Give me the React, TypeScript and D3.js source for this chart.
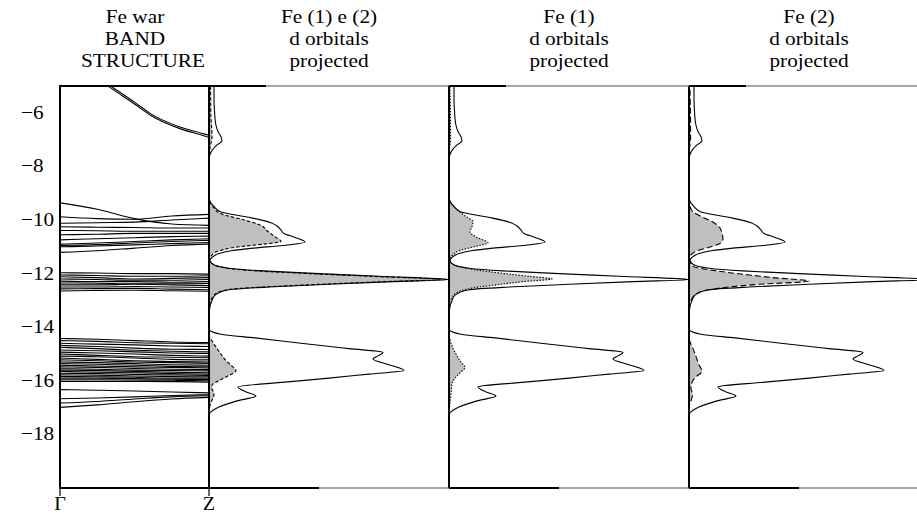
import React from "react";
import * as d3 from "d3";

// ---- data ----
const yTicks = [-6, -8, -10, -12, -14, -16, -18];
const kLabels = ["Γ", "Z"];
const kPoints = [0, 0.25, 0.5, 0.75, 1];

// upper s-like pair, crosses the top of the window
const topBandK = [0, 0.2, 0.34, 0.5, 0.61, 0.81, 0.95, 1];
const topBands = [
  [-3.2, -4.45, -5.0, -5.6, -6.04, -6.54, -6.76, -6.84],
  [-3.3, -4.52, -5.07, -5.67, -6.1, -6.6, -6.83, -6.92],
];

// d bands around -10 / -11
const dBandsUpper = [
  [-9.36, -9.6, -9.95, -10.15, -10.2],
  [-9.88, -9.95, -9.97, -9.85, -9.79],
  [-10.12, -10.1, -10.08, -10.0, -9.93],
  [-10.25, -10.27, -10.28, -10.3, -10.3],
  [-10.39, -10.4, -10.42, -10.42, -10.42],
  [-10.55, -10.53, -10.5, -10.5, -10.5],
  [-10.74, -10.7, -10.66, -10.62, -10.6],
  [-10.9, -10.86, -10.8, -10.74, -10.7],
  [-10.95, -10.92, -10.86, -10.8, -10.76],
  [-11.0, -10.97, -10.93, -10.88, -10.84],
  [-11.21, -11.15, -11.05, -10.95, -10.9],
];

// flat d bands around -12.3
const dBandsMiddle = [
  [-11.97, -11.98, -12.0, -12.0, -12.02],
  [-12.05, -12.07, -12.1, -12.1, -12.08],
  [-12.12, -12.15, -12.2, -12.18, -12.15],
  [-12.2, -12.22, -12.25, -12.25, -12.22],
  [-12.28, -12.3, -12.3, -12.32, -12.3],
  [-12.35, -12.36, -12.38, -12.38, -12.37],
  [-12.42, -12.42, -12.4, -12.42, -12.45],
  [-12.5, -12.5, -12.48, -12.5, -12.52],
  [-12.57, -12.56, -12.55, -12.58, -12.6],
  [-12.65, -12.63, -12.62, -12.64, -12.66],
];

// dense group -14.4 .. -16
const lowBands = [
  [-14.42, -14.45, -14.5, -14.55, -14.57],
  [-14.5, -14.53, -14.58, -14.6, -14.62],
  [-14.6, -14.63, -14.66, -14.7, -14.72],
  [-14.68, -14.72, -14.78, -14.82, -14.83],
  [-14.75, -14.8, -14.86, -14.9, -14.92],
  [-14.85, -14.88, -14.92, -14.96, -14.98],
  [-14.93, -14.96, -15.0, -15.05, -15.08],
  [-15.0, -15.05, -15.1, -15.12, -15.14],
  [-15.08, -15.1, -15.15, -15.2, -15.22],
  [-15.15, -15.2, -15.25, -15.28, -15.3],
  [-15.22, -15.25, -15.3, -15.32, -15.35],
  [-15.3, -15.32, -15.36, -15.4, -15.42],
  [-15.36, -15.38, -15.42, -15.46, -15.48],
  [-15.42, -15.45, -15.48, -15.5, -15.52],
  [-15.48, -15.5, -15.54, -15.57, -15.58],
  [-15.55, -15.57, -15.6, -15.62, -15.63],
  [-15.6, -15.62, -15.65, -15.68, -15.7],
  [-15.65, -15.68, -15.7, -15.73, -15.75],
  [-15.72, -15.73, -15.76, -15.78, -15.8],
  [-15.78, -15.79, -15.82, -15.84, -15.85],
  [-15.84, -15.85, -15.87, -15.9, -15.9],
  [-15.9, -15.9, -15.92, -15.94, -15.95],
  [-15.96, -15.96, -15.97, -15.98, -16.0],
  [-16.02, -16.02, -16.02, -16.03, -16.05],
];

const bottomBands = [
  [-16.33, -16.35, -16.38, -16.42, -16.45],
  [-16.67, -16.64, -16.6, -16.55, -16.52],
  [-16.83, -16.77, -16.68, -16.6, -16.56],
  [-16.99, -16.9, -16.78, -16.68, -16.62],
];

// DOS: [energy, states]
const dosTotal = [
  [-4.8, 2.5], [-5.5, 2.5], [-6.0, 2.8], [-6.4, 3.3], [-6.7, 4.5], [-6.9, 6], [-7.05, 6.5],
  [-7.2, 4], [-7.4, 1.5], [-7.6, 0.3], [-7.8, 0], [-9.0, 0], [-9.26, 0.3], [-9.5, 2.5],
  [-9.7, 6], [-9.9, 20], [-10.1, 31], [-10.25, 34.5], [-10.38, 36], [-10.5, 37.5],
  [-10.65, 43], [-10.82, 48], [-10.95, 37], [-11.05, 22], [-11.15, 11], [-11.25, 5],
  [-11.4, 1.5], [-11.5, 0.5], [-11.65, 2], [-11.8, 10], [-11.9, 27], [-12.0, 55],
  [-12.1, 85], [-12.22, 120], [-12.3, 92], [-12.4, 60], [-12.5, 30], [-12.6, 10],
  [-12.8, 3], [-13.0, 1.5], [-13.3, 0.3], [-13.8, 0], [-14.1, 0.3], [-14.26, 6],
  [-14.4, 23], [-14.6, 46], [-14.8, 70], [-14.94, 87], [-15.05, 85], [-15.19, 82],
  [-15.4, 90], [-15.62, 97.5], [-15.75, 80], [-15.9, 60], [-16.05, 38], [-16.23, 14.5],
  [-16.4, 18], [-16.57, 23.5], [-16.75, 14], [-16.98, 5], [-17.1, 2], [-17.22, 0.3],
  [-17.5, 0], [-20, 0],
];

const dosFe12 = [
  [-4.8, 0.8], [-6.0, 0.9], [-6.9, 1.5], [-7.2, 0.8], [-7.6, 0], [-9.1, 0], [-9.3, 0.3],
  [-9.5, 2], [-9.75, 5.5], [-10.0, 17.5], [-10.2, 26], [-10.4, 29], [-10.6, 32.5],
  [-10.8, 36], [-10.9, 27.5], [-11.0, 15], [-11.15, 5], [-11.3, 1.5], [-11.5, 0.3],
  [-11.6, 1], [-11.8, 9], [-11.9, 24], [-12.0, 50], [-12.1, 80], [-12.22, 116],
  [-12.3, 88], [-12.4, 55], [-12.5, 27], [-12.6, 9], [-12.8, 2.5], [-13.0, 1],
  [-13.3, 0], [-14.3, 0], [-14.45, 1], [-14.63, 2.5], [-14.85, 4.5], [-15.06, 6.5],
  [-15.25, 8.5], [-15.45, 11.5], [-15.62, 13.5], [-15.8, 10], [-15.99, 5], [-16.17, 1.5],
  [-16.3, 1.5], [-16.48, 2.5], [-16.65, 2], [-16.79, 1], [-17.0, 0.3], [-17.3, 0], [-20, 0],
];

const dosFe1 = [
  [-4.8, 0.4], [-6.9, 0.8], [-7.6, 0], [-9.1, 0], [-9.3, 0.5], [-9.6, 4], [-9.9, 9],
  [-10.05, 12], [-10.25, 11.5], [-10.45, 10.5], [-10.65, 14], [-10.85, 19.5], [-11.0, 12.5],
  [-11.15, 5], [-11.3, 2], [-11.45, 0.5], [-11.6, 1], [-11.85, 12.5], [-12.0, 28],
  [-12.1, 40], [-12.2, 51.5], [-12.3, 37], [-12.4, 26], [-12.53, 12.5], [-12.7, 4],
  [-12.9, 1.5], [-13.2, 0], [-14.3, 0], [-14.4, 0.3], [-14.7, 1.5], [-15.0, 3.5],
  [-15.3, 6], [-15.5, 8], [-15.7, 5.5], [-15.9, 3], [-16.1, 1.5], [-16.5, 1], [-16.8, 0.5],
  [-17.1, 0.2], [-17.3, 0], [-20, 0],
];

const dosFe2 = [
  [-4.8, 0.4], [-6.9, 0.8], [-7.6, 0], [-9.3, 0], [-9.5, 0.5], [-9.7, 2], [-9.9, 7],
  [-10.1, 12.5], [-10.3, 15.5], [-10.5, 16.5], [-10.7, 17], [-10.85, 16], [-11.0, 11],
  [-11.15, 4], [-11.3, 1], [-11.5, 0.3], [-11.73, 2], [-11.9, 14], [-12.05, 30],
  [-12.15, 42], [-12.28, 60], [-12.4, 35], [-12.5, 20], [-12.65, 7], [-12.8, 3],
  [-13.0, 1], [-13.2, 0], [-14.3, 0], [-14.5, 0.3], [-14.8, 2], [-15.1, 3.5], [-15.4, 5],
  [-15.65, 6.5], [-15.85, 3.5], [-16.05, 1.5], [-16.3, 1], [-16.5, 1.8], [-16.7, 1.2],
  [-16.9, 0.3], [-17.1, 0], [-20, 0],
];

const bandTitle = ["Fe war", "BAND", "STRUCTURE"];
const panelTitles = [
  ["Fe (1) e (2)", "d orbitals", "projected"],
  ["Fe (1)", "d orbitals", "projected"],
  ["Fe (2)", "d orbitals", "projected"],
];
const panelDos = [dosFe12, dosFe1, dosFe2];
const panelDash = ["3.5,2", "1.5,1.5", "6,3"];

// ---- layout ----
const W = 917, H = 516;
const top = 86, bottom = 488;
const bandLeft = 60, bandRight = 209;
const panelW = 240;
const panelLefts = [209, 449, 689];
const font = "'Liberation Serif', 'Times New Roman', serif";

const Txt = ({ x, y, anchor = "middle", size = 19, children }: any) => (
  <text
    transform={`translate(${x},${y}) scale(1.12,1)`}
    textAnchor={anchor}
    fontFamily={font}
    fontSize={size}
    fill="#000"
  >
    {children}
  </text>
);

export default function App() {
  const y = d3.scaleLinear().domain([-20, -5]).range([bottom, top]);
  const xk = d3.scaleLinear().domain([0, 1]).range([bandLeft, bandRight]);

  const bandLine = (ks: number[]) =>
    d3
      .line<number>()
      .x((_, i) => xk(ks[i]))
      .y((d) => y(d))
      .curve(d3.curveMonotoneX);

  const bands = [...dBandsUpper, ...dBandsMiddle, ...lowBands, ...bottomBands];

  return (
    <svg width={W} height={H} style={{ position: "absolute", left: 0, top: 0, background: "#fff" }}>
      <defs>
        <clipPath id="clip-band">
          <rect x={bandLeft} y={top} width={bandRight - bandLeft} height={bottom - top} />
        </clipPath>
        {panelLefts.map((px, i) => (
          <clipPath id={`clip-dos-${i}`} key={i}>
            <rect x={px} y={top} width={panelW} height={bottom - top} />
          </clipPath>
        ))}
      </defs>

      {/* band structure */}
      <g clipPath="url(#clip-band)" fill="none" stroke="#000" strokeWidth={1.1}>
        {topBands.map((b, i) => (
          <path key={"t" + i} d={bandLine(topBandK)(b) || ""} />
        ))}
        {bands.map((b, i) => (
          <path key={i} d={bandLine(kPoints)(b) || ""} />
        ))}
      </g>

      {/* DOS panels */}
      {panelLefts.map((px, i) => {
        const xs = d3.scaleLinear().domain([0, 120]).range([px, px + panelW]);
        const area = d3
          .area<number[]>()
          .y((d) => y(d[0]))
          .x0(xs(0))
          .x1((d) => xs(d[1]))
          .curve(d3.curveMonotoneY);
        const line = d3
          .line<number[]>()
          .x((d) => xs(d[1]))
          .y((d) => y(d[0]))
          .curve(d3.curveMonotoneY);
        return (
          <g key={i} clipPath={`url(#clip-dos-${i})`}>
            <path d={area(panelDos[i]) || ""} fill="#bfbfbf" stroke="none" />
            <path d={line(panelDos[i]) || ""} fill="none" stroke="#000" strokeWidth={1.1} strokeDasharray={panelDash[i]} />
            <path d={line(dosTotal) || ""} fill="none" stroke="#000" strokeWidth={1.1} />
          </g>
        );
      })}

      {/* frames */}
      <g stroke="#000" strokeWidth={2}>
        <line x1={bandLeft} x2={bandLeft} y1={top} y2={bottom} />
        <line x1={bandLeft - 1} x2={bandRight} y1={top} y2={top} />
        <line x1={bandLeft - 1} x2={bandRight} y1={bottom} y2={bottom} />
        {xk.domain().map((k, i) => (
          <line key={i} x1={xk(k)} x2={xk(k)} y1={bottom} y2={bottom + 8} strokeWidth={1.2} />
        ))}
      </g>
      {panelLefts.map((px, i) => (
        <g key={i}>
          <line x1={px + 57} x2={px + panelW} y1={top} y2={top} stroke="#8a8a8a" strokeWidth={1.4} />
          <line x1={px + 110} x2={px + panelW} y1={bottom} y2={bottom} stroke="#8a8a8a" strokeWidth={1.4} />
          <line x1={px} x2={px + 57} y1={top} y2={top} stroke="#000" strokeWidth={2} />
          <line x1={px} x2={px + 110} y1={bottom} y2={bottom} stroke="#000" strokeWidth={2} />
          <line x1={px} x2={px} y1={top} y2={bottom} stroke="#000" strokeWidth={2} />
        </g>
      ))}

      {/* y tick labels */}
      {yTicks.map((t) => (
        <Txt key={t} x={21} y={y(t) + 6} anchor="start">
          {"\u2212" + Math.abs(t)}
        </Txt>
      ))}

      {/* k labels */}
      {xk.domain().map((k, i) => (
        <Txt key={i} x={xk(k)} y={510} size={18}>
          {kLabels[i]}
        </Txt>
      ))}

      {/* titles */}
      {bandTitle.map((s, j) => (
        <Txt key={j} x={j === 2 ? 143 : 135} y={23 + j * 22}>
          {s}
        </Txt>
      ))}
      {panelTitles.map((lines, i) =>
        lines.map((s, j) => (
          <Txt key={i + "-" + j} x={panelLefts[i] + panelW / 2} y={23 + j * 22}>
            {s}
          </Txt>
        ))
      )}
    </svg>
  );
}
